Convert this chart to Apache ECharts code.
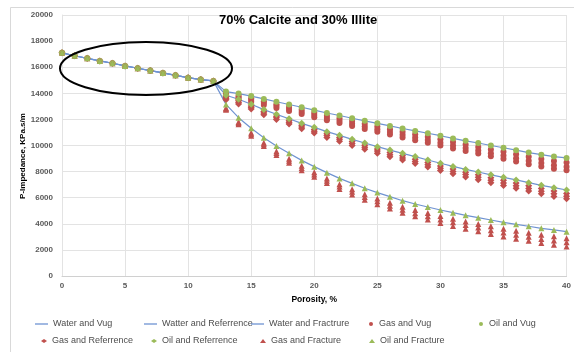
<!DOCTYPE html>
<html>
<head>
<meta charset="utf-8">
<script src="https://cdn.jsdelivr.net/npm/echarts@6/dist/echarts.min.js"></script>
<style>
  html, body { margin: 0; padding: 0; background: #ffffff; }
  #chart { width: 574px; height: 352px; }
</style>
</head>
<body>
<div id="chart"></div>
<script>
// Porosity (%) on the shared trunk and on the three pore-type branches
const porosityShared = [0, 1, 2, 3, 4, 5, 6, 7, 8, 9, 10, 11, 12];
const porosityBranch = [13, 14, 15, 16, 17, 18, 19, 20, 21, 22, 23, 24, 25, 26, 27,
  28, 29, 30, 31, 32, 33, 34, 35, 36, 37, 38, 39, 40];

// P-impedance (KPa.s/m) common to all fluids and pore types up to 12 %
const sharedImpedance = [17100, 16880, 16680, 16480, 16300, 16100, 15920, 15740,
  15560, 15380, 15200, 15050, 14950];

// Water / oil saturated branches (13-40 %)
const vugImpedance = [14130, 13980, 13790, 13570, 13350, 13140, 12930, 12710, 12490,
  12300, 12090, 11890, 11700, 11500, 11300, 11120, 10940, 10750, 10540, 10360, 10190,
  10000, 9830, 9640, 9460, 9300, 9150, 9050];
const referenceImpedance = [13850, 13540, 13160, 12750, 12390, 12050, 11700, 11390,
  11060, 10780, 10470, 10190, 9910, 9650, 9400, 9150, 8890, 8640, 8400, 8170, 7970,
  7750, 7560, 7360, 7150, 6950, 6770, 6590];
const fractureImpedance = [13150, 12130, 11320, 10600, 9960, 9400, 8860, 8380, 7920,
  7480, 7100, 6720, 6390, 6080, 5770, 5520, 5290, 5060, 4850, 4650, 4470, 4290, 4110,
  3960, 3810, 3650, 3530, 3400];

// Gas saturated branches: three saturation cases per porosity step
const gasVugHigh = [13980, 13820, 13630, 13400, 13170, 12950, 12740, 12510, 12280,
  12080, 11870, 11660, 11460, 11250, 11050, 10860, 10670, 10470, 10260, 10070, 9890,
  9690, 9520, 9320, 9130, 8960, 8810, 8700];
const gasVugMid = [13860, 13690, 13490, 13250, 13020, 12790, 12570, 12330, 12100,
  11890, 11670, 11450, 11250, 11030, 10820, 10620, 10430, 10220, 10000, 9800, 9620,
  9410, 9230, 9030, 8830, 8660, 8490, 8380];
const gasVugLow = [13730, 13560, 13350, 13110, 12870, 12640, 12410, 12170, 11930,
  11720, 11490, 11270, 11060, 10840, 10620, 10410, 10210, 10000, 9770, 9570, 9380,
  9170, 8980, 8770, 8570, 8390, 8220, 8100];

const gasRefHigh = [13730, 13420, 13030, 12610, 12250, 11900, 11550, 11230, 10900,
  10610, 10300, 10010, 9730, 9460, 9210, 8950, 8690, 8430, 8190, 7950, 7750, 7520,
  7330, 7120, 6910, 6700, 6520, 6330];
const gasRefMid = [13620, 13300, 12910, 12490, 12120, 11770, 11410, 11090, 10760,
  10470, 10150, 9860, 9570, 9300, 9040, 8780, 8520, 8260, 8010, 7770, 7560, 7330,
  7130, 6920, 6710, 6500, 6310, 6120];
const gasRefLow = [13500, 13180, 12790, 12360, 11990, 11640, 11280, 10960, 10610,
  10320, 10000, 9710, 9410, 9140, 8880, 8620, 8350, 8080, 7830, 7590, 7380, 7140,
  6940, 6730, 6510, 6300, 6100, 5910];

const gasFracHigh = [12870, 11810, 10970, 10220, 9560, 8990, 8440, 7950, 7480, 7040,
  6650, 6270, 5930, 5620, 5310, 5050, 4820, 4590, 4380, 4170, 3990, 3810, 3630, 3470,
  3320, 3160, 3040, 2900];
const gasFracMid = [12800, 11720, 10860, 10100, 9420, 8830, 8270, 7780, 7300, 6850,
  6450, 6060, 5720, 5390, 5070, 4810, 4570, 4330, 4110, 3900, 3710, 3510, 3330, 3170,
  3010, 2840, 2720, 2580];
const gasFracLow = [12730, 11630, 10750, 9970, 9280, 8680, 8110, 7610, 7120, 6660,
  6250, 5850, 5500, 5170, 4840, 4570, 4320, 4070, 3840, 3620, 3420, 3220, 3030, 2860,
  2700, 2530, 2400, 2260];

// Axis ticks
const xTicks = { min: 0, max: 40, step: 5 };
const yTicks = { min: 0, max: 20000, step: 2000 };

// ---- helpers building [x, y] pairs ----
function trunkPairs() {
  return porosityShared.map((p, i) => [p, sharedImpedance[i]]);
}
function branchPairs(values) {
  return trunkPairs().concat(porosityBranch.map((p, i) => [p, values[i]]));
}
function gasPairs(high, mid, low) {
  const pts = trunkPairs();
  porosityBranch.forEach((p, i) => {
    pts.push([p, high[i]], [p, mid[i]], [p, low[i]]);
  });
  return pts;
}

const FONT = '"Liberation Sans", Arial, sans-serif';
const TEXT_GREY = '#595959';
const WATER = '#6f93d2';
const GAS = '#c0504d';
const OIL = '#9bbb59';

function waterSeries(name, values) {
  return {
    name, type: 'line', data: branchPairs(values),
    symbol: 'none', smooth: false,
    lineStyle: { color: WATER, width: 1.2 },
    itemStyle: { color: WATER },
    z: 2
  };
}
function markerSeries(name, data, color, symbol, size) {
  return {
    name, type: 'scatter', data, symbol, symbolSize: size,
    itemStyle: { color, opacity: 1 },
    z: 3
  };
}

// legend entries placed one by one: [name, left, top, isLine]
const legendRows = [
  ['Water and Vug', 35, 319, true],
  ['Watter and Referrence', 144, 319, true],
  ['Water and Fractrure', 251, 319, true],
  ['Gas and Vug', 369, 319, false],
  ['Oil and Vug', 479, 319, false],
  ['Gas and Referrence', 41, 336, false],
  ['Oil and Referrence', 151, 336, false],
  ['Gas and Fracture', 260, 336, false],
  ['Oil and Fracture', 369, 336, false]
];
const legends = legendRows.map(([name, left, top, isLine]) => ({
  data: [isLine ? { name, icon: 'rect' } : { name }],
  left, top, padding: 0,
  itemWidth: isLine ? 13 : 6,
  itemHeight: isLine ? 1.3 : 4,
  selectedMode: false,
  textStyle: { fontFamily: FONT, fontSize: 9, color: '#4d4d4d', lineHeight: 10 }
}));

const chart = echarts.init(document.getElementById('chart'), null, { renderer: 'canvas' });
chart.setOption({
  animation: false,
  backgroundColor: '#ffffff',
  title: {
    text: '70% Calcite and 30% Illite',
    left: 219, top: 14, padding: 0,
    textStyle: { fontFamily: FONT, fontSize: 13, fontWeight: 'bold', color: '#000000' }
  },
  legend: legends,
  grid: { left: 62, right: 2, top: 15, bottom: 76, containLabel: false },
  xAxis: {
    type: 'value', min: xTicks.min, max: xTicks.max, interval: xTicks.step,
    name: 'Porosity, %', nameLocation: 'middle', nameGap: 17,
    nameTextStyle: { fontFamily: FONT, fontSize: 8.5, fontWeight: 'bold', color: '#000000' },
    axisLine: { show: true, lineStyle: { color: '#d0d0d0', width: 1 } },
    axisTick: { show: false },
    axisLabel: { fontFamily: FONT, fontSize: 8, fontWeight: 'bold', color: TEXT_GREY, margin: 6 },
    splitLine: { show: true, lineStyle: { color: '#e3e3e3', width: 1 } }
  },
  yAxis: {
    type: 'value', min: yTicks.min, max: yTicks.max, interval: yTicks.step,
    axisLine: { show: true, lineStyle: { color: '#e3e3e3', width: 1 } },
    axisTick: { show: false },
    axisLabel: {
      fontFamily: FONT, fontSize: 8, fontWeight: 'bold', color: TEXT_GREY, margin: 9,
      formatter: (v) => String(v)
    },
    splitLine: { show: true, lineStyle: { color: '#e3e3e3', width: 1 } }
  },
  graphic: [
    {
      type: 'rect', silent: true, z: -1,
      shape: { x: 10.5, y: 7.5, width: 700, height: 500 },
      style: { fill: 'none', stroke: '#d9d9d9', lineWidth: 1 }
    },
    {
      type: 'text', silent: true, x: 23, y: 156, rotation: Math.PI / 2,
      style: {
        text: 'P-Impedance, KPa.s/m', fontFamily: FONT, fontSize: 8, fontWeight: 'bold',
        fill: '#000000', align: 'center', verticalAlign: 'middle'
      }
    },
    {
      type: 'ellipse', silent: true, z: 100,
      shape: { cx: 146, cy: 68.5, rx: 86, ry: 26.5 },
      style: { fill: 'none', stroke: '#000000', lineWidth: 2 }
    }
  ],
  series: [
    waterSeries('Water and Vug', vugImpedance),
    waterSeries('Watter and Referrence', referenceImpedance),
    waterSeries('Water and Fractrure', fractureImpedance),
    markerSeries('Gas and Vug', gasPairs(gasVugHigh, gasVugMid, gasVugLow), GAS, 'circle', 6),
    markerSeries('Oil and Vug', branchPairs(vugImpedance), OIL, 'circle', 6),
    markerSeries('Gas and Referrence', gasPairs(gasRefHigh, gasRefMid, gasRefLow), GAS, 'diamond', 7),
    markerSeries('Oil and Referrence', branchPairs(referenceImpedance), OIL, 'diamond', 7),
    markerSeries('Gas and Fracture', gasPairs(gasFracHigh, gasFracMid, gasFracLow), GAS, 'triangle', 6),
    markerSeries('Oil and Fracture', branchPairs(fractureImpedance), OIL, 'triangle', 6)
  ]
});
</script>
</body>
</html>
